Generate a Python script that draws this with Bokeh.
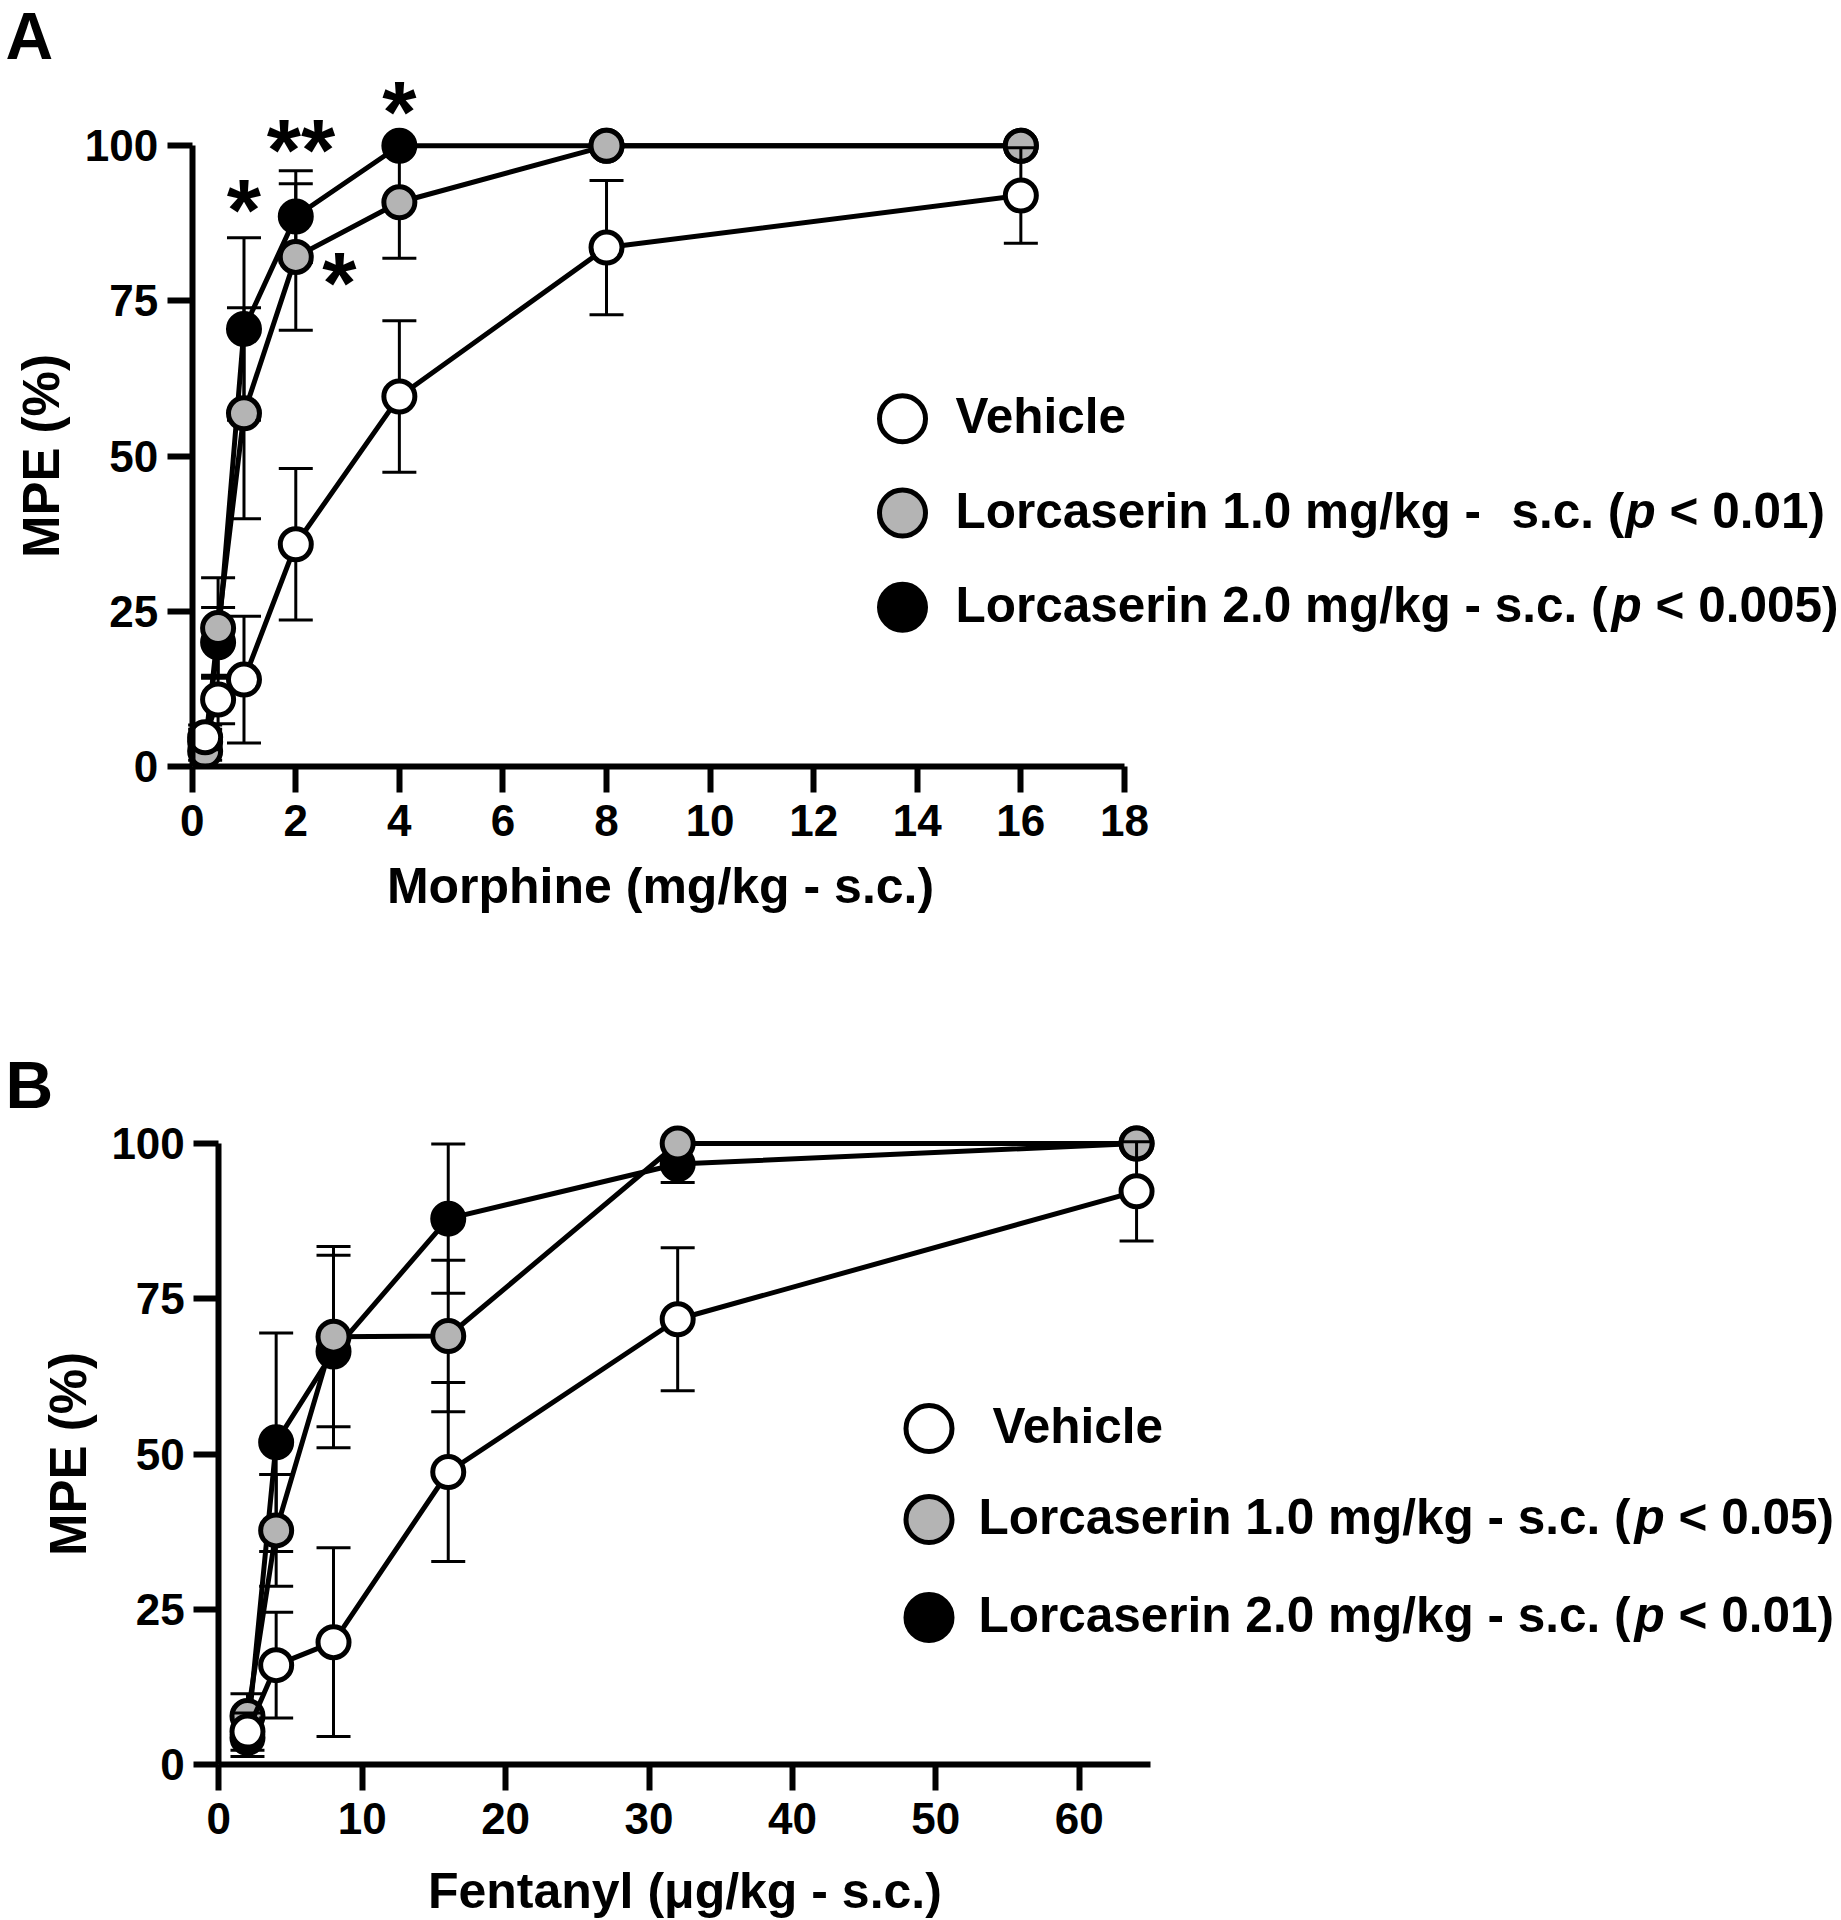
import re
from math import pi
from bokeh.plotting import figure
from bokeh.layouts import column
from bokeh.models import Range1d, FixedTicker
from bokeh.core.properties import value
from bokeh.embed import file_html
from bokeh.resources import INLINE

# ---------------- data ----------------
morphine_dose = [0.25, 0.5, 1, 2, 4, 8, 16]
morph_vehicle = [4.7, 10.8, 14.0, 35.8, 59.6, 83.6, 92.0]
morph_vehicle_sem = [2.0, 3.9, 10.2, 12.2, 12.2, 10.8, 7.7]
morph_lor1 = [2.5, 22.3, 56.9, 82.1, 90.9, 100.0, 100.0]
morph_lor1_sem = [1.5, 8.1, 17.0, 11.8, 9.0, 0.0, 0.0]
morph_lor2 = [4.0, 20.0, 70.5, 88.6, 100.0, 100.0, 100.0]
morph_lor2_sem = [2.0, 5.6, 14.7, 7.4, 0.0, 0.0, 0.0]

sig_x = [1.0, 2.1, 4.0, 2.84]
sig_y = [91.0, 100.6, 106.8, 79.3]
sig_text = ["*", "**", "*", "*"]

fentanyl_dose = [2, 4, 8, 16, 32, 64]
fent_vehicle = [5.3, 16.0, 19.7, 47.1, 71.7, 92.3]
fent_vehicle_sem = [3.0, 8.5, 15.2, 14.4, 11.5, 8.0]
fent_lor1 = [7.8, 37.7, 68.9, 69.0, 100.0, 100.0]
fent_lor1_sem = [3.6, 9.0, 14.5, 12.2, 0.0, 0.0]
fent_lor2 = [4.3, 51.9, 66.5, 87.9, 96.7, 100.0]
fent_lor2_sem = [3.0, 17.6, 15.5, 12.0, 3.0, 0.0]

y_ticks = [0, 25, 50, 75, 100]
morph_ticks = [0, 2, 4, 6, 8, 10, 12, 14, 16, 18]
fent_ticks = [0, 10, 20, 30, 40, 50, 60]

legend_A = [
    [("Vehicle", False)],
    [("Lorcaserin 1.0 mg/kg -  s.c. (", False), ("p", True), (" < 0.01)", False)],
    [("Lorcaserin 2.0 mg/kg - s.c. (", False), ("p", True), (" < 0.005)", False)],
]
legend_B = [
    [(" Vehicle", False)],
    [("Lorcaserin 1.0 mg/kg - s.c. (", False), ("p", True), (" < 0.05)", False)],
    [("Lorcaserin 2.0 mg/kg - s.c. (", False), ("p", True), (" < 0.01)", False)],
]
fills = ["white", "#b4b4b4", "black"]

FONT = "Liberation Sans"
W = 1841

# Liberation Sans Bold advance widths (1/1000 em), used only to place text runs
AW = {' ': 278, '(': 333, ')': 333, '-': 333, '.': 278, '/': 278, '<': 584,
      'L': 611, 'V': 667, 'a': 556, 'c': 556, 'e': 556, 'g': 611, 'h': 611,
      'i': 278, 'k': 556, 'l': 278, 'm': 889, 'n': 611, 'o': 611, 'p': 611,
      'r': 389, 's': 556}


def tw(s, size):
    return sum(round(AW.get(c, 556) * size / 1000.0) for c in s)


def rich_pieces(segments, size):
    pieces = []
    off = 0.0
    for txt, ital in segments:
        for m in re.finditer(r'\S+(?: \S+)*', txt):
            pieces.append((m.group(0), ital, off + tw(txt[:m.start()], size)))
        off += tw(txt, size)
    return pieces


class Panel:
    def __init__(self, height, x0, y0, kx, ky, xticks, xmax):
        self.x0, self.y0, self.kx, self.ky = x0, y0, kx, ky
        p = figure(width=W, height=height, output_backend="svg", toolbar_location=None,
                   x_range=Range1d(-x0 / kx, (W - x0) / kx),
                   y_range=Range1d(-(height - y0) / ky, y0 / ky),
                   min_border_left=0, min_border_right=0, min_border_top=0,
                   min_border_bottom=0)
        p.frame_align = False
        p.xgrid.visible = False
        p.ygrid.visible = False
        p.outline_line_color = None
        p.background_fill_color = "white"
        p.border_fill_color = "white"
        for ax in (p.xaxis[0], p.yaxis[0]):
            ax.fixed_location = 0
            ax.axis_line_width = 6
            ax.axis_line_color = "black"
            ax.major_tick_line_width = 6
            ax.major_tick_line_color = "black"
            ax.major_tick_in = 0
            ax.minor_tick_line_color = None
            ax.major_label_text_font = FONT
            ax.major_label_text_font_style = "bold"
            ax.major_label_text_font_size = "44px"
            ax.major_label_text_color = "black"
        p.xaxis[0].ticker = FixedTicker(ticks=xticks)
        p.xaxis[0].bounds = (0, xmax)
        p.xaxis[0].major_tick_out = 26
        p.xaxis[0].major_label_standoff = 12
        p.yaxis[0].ticker = FixedTicker(ticks=y_ticks)
        p.yaxis[0].bounds = (0, 100)
        p.yaxis[0].major_tick_out = 25
        p.yaxis[0].major_label_standoff = 9
        self.p = p

    def X(self, px):
        return (px - self.x0) / self.kx

    def Y(self, py):
        return (self.y0 - py) / self.ky

    def series(self, x, mean, sem, fill):
        p = self.p
        ex = [xi for xi, s in zip(x, sem) if s > 0]
        lo = [m - s for m, s in zip(mean, sem) if s > 0]
        hi = [m + s for m, s in zip(mean, sem) if s > 0]
        p.segment(x0=ex, y0=lo, x1=ex, y1=hi, line_width=3, line_color="black")
        p.scatter(ex, hi, marker="dash", size=34, line_width=3, line_color="black")
        p.scatter(ex, lo, marker="dash", size=34, line_width=3, line_color="black")
        p.line(x, mean, line_width=5, line_color="black")
        p.scatter(x, mean, marker="circle", size=31, fill_color=fill,
                  line_color="black", line_width=5)

    def label(self, px, py, text, size, angle=0.0, align="left", style="bold"):
        self.p.text(x=[self.X(px)], y=[self.Y(py)], text=[text], angle=angle,
                    text_font=value(FONT), text_font_style=style,
                    text_font_size=f"{size}px", text_color="black",
                    text_align=align, text_baseline="middle")

    def legend(self, items, mx, rows, tx, fs):
        for segs, fill, cy in zip(items, fills, rows):
            self.p.scatter([self.X(mx)], [self.Y(cy)], marker="circle", size=46,
                           fill_color=fill, line_color="black", line_width=5)
            for txt, ital, off in rich_pieces(segs, fs):
                self.label(tx + off, cy - 3, txt, fs,
                           style="bold italic" if ital else "bold")


# ---------------- panel A (morphine) ----------------
HA = 1000
A = Panel(HA, 191.7, 766.0, 51.79, 6.207, morph_ticks, 18)
A.series(morphine_dose, morph_lor2, morph_lor2_sem, fills[2])
A.series(morphine_dose, morph_lor1, morph_lor1_sem, fills[1])
A.series(morphine_dose, morph_vehicle, morph_vehicle_sem, fills[0])

STAR = 88
A.p.text(x=sig_x, y=[v - 0.09 * STAR / A.ky for v in sig_y], text=sig_text,
         text_font=value(FONT), text_font_style="bold", text_font_size=f"{STAR}px",
         text_color="black", text_align="center", text_baseline="middle")

A.legend(legend_A, 902, [418.3, 512.5, 606.7], 955, 49.5)
A.label(5, 35, "A", 66)
A.label(41, 455.6, "MPE (%)", 51, angle=pi / 2, align="center")
A.label(660, 885, "Morphine (mg/kg - s.c.)", 50, align="center")

# ---------------- panel B (fentanyl) ----------------
HB = 920
B = Panel(HB, 218.3, 1764.0 - HA, 14.34, 6.21, fent_ticks, 65)
B.series(fentanyl_dose, fent_lor2, fent_lor2_sem, fills[2])
B.series(fentanyl_dose, fent_lor1, fent_lor1_sem, fills[1])
B.series(fentanyl_dose, fent_vehicle, fent_vehicle_sem, fills[0])

B.legend(legend_B, 928.5, [1428 - HA, 1519 - HA, 1617 - HA], 978, 49.5)
B.label(5, 1084.5 - HA, "B", 66)
B.label(68, 1453.5 - HA, "MPE (%)", 51, angle=pi / 2, align="center")
B.label(684.4, 1890 - HA, "Fentanyl (\u03bcg/kg - s.c.)", 50, align="center")

layout = column(A.p, B.p)
open("out.html", "w").write(file_html(layout, INLINE))
